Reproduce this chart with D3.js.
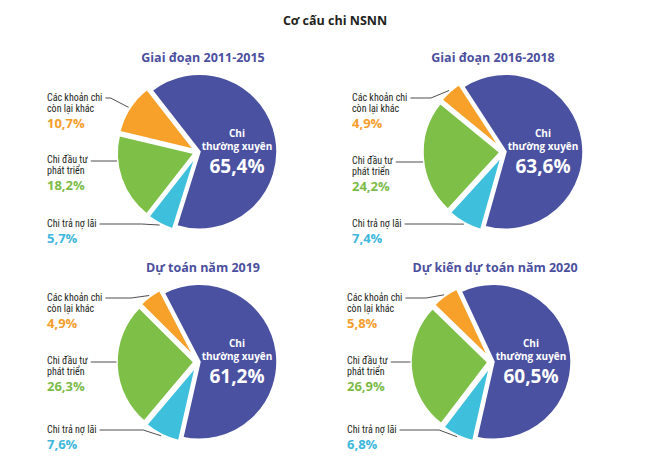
<!DOCTYPE html>
<html>
<head>
<meta charset="utf-8">
<script src="https://cdn.jsdelivr.net/npm/d3@7"></script>
<style>
  html, body { margin: 0; padding: 0; background: #fff; }
  svg { display: block; }
  .lbl { font-family: "Liberation Sans Narrow", "Roboto Condensed", Roboto, sans-serif; }
</style>
</head>
<body>
<div id="chart"></div>
<script>
// ---------- data ----------
const chartTitle = "Cơ cấu chi NSNN";
const periods = ["Giai đoạn 2011-2015", "Giai đoạn 2016-2018", "Dự toán năm 2019", "Dự kiến dự toán năm 2020"];
const categories = ["Chi thường xuyên", "Chi trả nợ lãi", "Chi đầu tư phát triển", "Các khoản chi còn lại khác"];
const thuongXuyen = [65.4, 63.6, 61.2, 60.5];
const traNoLai = [5.7, 7.4, 7.6, 6.8];
const dauTuPhatTrien = [18.2, 24.2, 26.3, 26.9];
const conLaiKhac = [10.7, 4.9, 4.9, 5.8];
const startAngleDeg = [-38, -33, -27.5, -25];

// label lines per category (index matches categories)
const labelLines = [["Chi", "thường xuyên"], ["Chi trả nợ lãi"], ["Chi đầu tư", "phát triển"], ["Các khoản chi", "còn lại khác"]];

// ---------- layout / style ----------
const W = 655, H = 458;
const sliceColors = ["#4a51a1", "#3ebfdc", "#7dbf47", "#f7a12a"];
const textColors = ["#ffffff", "#3db7dc", "#7cbb47", "#f59d2c"];
const titleColor = "#4b4f9e";
const centers = [[198, 152], [504, 152], [198, 362], [492, 362]];
const titleX = [203, 493, 203, 495];
const titleY = [62, 62, 272, 272];
const labelX = [47, 352, 47, 347];
const labelRowY = [{1: 223, 2: 159, 3: 97}, {1: 223, 2: 160, 3: 97}, {1: 429, 2: 360, 3: 297}, {1: 429, 2: 360, 3: 297}];
const R = 78;
const explode = [1.5, 3.5, 3.5, 3.5];
const lineGap = 11;

const fmt = v => d3.format(".1f")(v).replace(".", ",") + "%";

const svg = d3.select("#chart").append("svg").attr("width", W).attr("height", H);

svg.append("text")
  .attr("x", 335).attr("y", 25)
  .attr("text-anchor", "middle")
  .attr("font-family", "'Open Sans', 'Noto Sans', sans-serif")
  .attr("font-weight", 700).attr("font-size", 12.5)
  .attr("fill", "#231f20")
  .text(chartTitle);

const arc = d3.arc().innerRadius(0).outerRadius(R);

periods.forEach((p, i) => {
  const values = [thuongXuyen[i], traNoLai[i], dauTuPhatTrien[i], conLaiKhac[i]];
  const a0 = startAngleDeg[i] * Math.PI / 180;
  const pie = d3.pie().sort(null).value(d => d).startAngle(a0).endAngle(a0 + 2 * Math.PI);
  const arcs = pie(values);
  const [cx, cy] = centers[i];
  const g = svg.append("g").attr("transform", `translate(${cx},${cy})`);

  // subtitle
  svg.append("text")
    .attr("x", titleX[i]).attr("y", titleY[i])
    .attr("text-anchor", "middle")
    .attr("font-family", "'Open Sans', 'Noto Sans', sans-serif")
    .attr("font-weight", 700).attr("font-size", 12.5)
    .attr("fill", titleColor)
    .text(p);

  const offs = arcs.map((d, k) => {
    const m = (d.startAngle + d.endAngle) / 2;
    return [Math.sin(m) * explode[k], -Math.cos(m) * explode[k]];
  });

  g.selectAll("path.slice").data(arcs).join("path")
    .attr("class", "slice")
    .attr("transform", (d, k) => `translate(${offs[k][0]},${offs[k][1]})`)
    .attr("d", arc)
    .attr("fill", (d, k) => sliceColors[k])
    .attr("stroke", "#fff").attr("stroke-width", 2.5).attr("stroke-linejoin", "round");

  // centre label
  const ct = g.append("g").attr("fill", "#fff").attr("text-anchor", "middle")
    .attr("font-family", "'Open Sans', sans-serif").attr("font-weight", 700);
  ct.append("text").attr("x", 39).attr("y", -19).attr("dy", "0.35em")
    .attr("font-size", 10).text(labelLines[0][0]);
  ct.append("text").attr("x", 39).attr("y", -6).attr("dy", "0.35em")
    .attr("font-size", 10).text(labelLines[0][1]);
  ct.append("text").attr("x", 39).attr("y", 14).attr("dy", "0.35em")
    .attr("font-size", 19).text(fmt(values[0]));

  // side labels
  [3, 2, 1].forEach(k => {
    const y0 = labelRowY[i][k];
    const lines = labelLines[k];
    const lg = svg.append("g").attr("class", "lbl");
    let firstLen = 0;
    lines.forEach((t, j) => {
      const tx = lg.append("text")
        .attr("x", labelX[i]).attr("y", y0 + j * lineGap).attr("dy", "0.35em")
        .attr("font-size", 10).attr("fill", "#231f20").text(t);
      if (j === 0) firstLen = tx.node().getComputedTextLength();
    });
    const pctY = y0 + (lines.length === 2 ? 26 : 15);
    lg.append("text")
      .attr("x", labelX[i]).attr("y", pctY).attr("dy", "0.35em")
      .attr("font-family", "'Open Sans', sans-serif")
      .attr("font-weight", 700).attr("font-size", 13)
      .attr("fill", textColors[k]).text(fmt(values[k]));

    // leader line
    const d = arcs[k];
    const x0 = labelX[i] + firstLen + 3;
    const ly = y0 + (k === 2 ? 2 : 1);
    let pts;
    if (k === 2) {
      const ox = cx + offs[k][0], oy = cy + offs[k][1];
      const dy = ly - oy;
      const xe = ox - Math.sqrt(Math.max(0, R * R - dy * dy));
      pts = [[x0, ly], [xe, ly]];
    } else {
      const m = (d.startAngle + d.endAngle) / 2;
      const rr = R + explode[k] + 1;
      const ex = cx + Math.sin(m) * rr, ey = cy - Math.cos(m) * rr;
      const elbow = Math.max(x0, ex - 18);
      pts = [[x0, ly], [elbow, ly], [ex, ey]];
    }
    svg.append("path")
      .attr("d", d3.line()(pts))
      .attr("fill", "none").attr("stroke", "#231f20").attr("stroke-width", 0.8);
  });
});
</script>
</body>
</html>
